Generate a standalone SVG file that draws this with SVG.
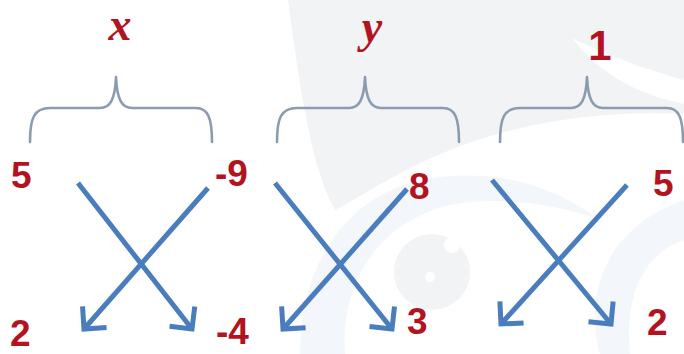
<svg xmlns="http://www.w3.org/2000/svg" width="684" height="354" viewBox="0 0 684 354">
  <defs>
    <style>
      .brace { fill: none; stroke: #8c9cb0; stroke-width: 2.6; stroke-linecap: round; stroke-linejoin: round; }
      .arrow { fill: none; stroke: #4a7dbd; stroke-width: 5; stroke-linecap: butt; marker-end: url(#head); }
      .num { font-family: "Liberation Sans", Arial, sans-serif; font-weight: bold; font-size: 37px; fill: #b3121f; }
      .var { font-family: "Liberation Serif", "Times New Roman", serif; font-style: italic; font-weight: bold; font-size: 46px; fill: #b3121f; }
      .one { font-family: "Liberation Sans", Arial, sans-serif; font-weight: bold; font-size: 42px; fill: #b3121f; }
      .wm { fill: #f2f3f5; }
      .wm2 { fill: #f3f6fa; }
    </style>
    <marker id="head" markerUnits="userSpaceOnUse" markerWidth="40" markerHeight="40" refX="0" refY="0" orient="auto" overflow="visible">
      <path d="M-16,-16 L0,0 L-16,16" fill="none" stroke="#4a7dbd" stroke-width="5" stroke-linejoin="miter"/>
    </marker>
  </defs>

  <rect width="684" height="354" fill="#ffffff"/>

  <!-- faint background logo -->
  <g id="backdrop">
    <path class="wm" d="M288,0 L684,0 L684,80 C640,68 600,52 572,38 C600,75 640,95 684,104 L684,114 C600,110 520,122 450,150 C400,170 362,196 335,210 C312,170 300,90 288,0 Z"/>
    <path class="wm2" d="M300,354 C300,270 340,200 420,180 C500,165 560,190 600,220 C560,205 500,195 450,205 C380,222 340,280 345,354 Z"/>
    <circle class="wm" cx="432" cy="272" r="38"/>
    <circle cx="452" cy="245" r="8" fill="#ffffff"/>
    <circle cx="430" cy="277" r="5" fill="#ffffff"/>
    <path class="wm2" d="M600,354 C585,300 600,230 684,200 L684,240 C640,255 625,300 630,354 Z"/>
  </g>

  <!-- braces -->
  <g id="brace-x">
    <path class="brace" d="M30,142 C30,118 34,108 50,108 L100,108 C110,108 115,100 116,77 C117,100 122,108 132,108 L196,108 C208,108 212,118 212,142"/>
    <text class="var" x="120" y="40" text-anchor="middle">x</text>
  </g>
  <g id="brace-y">
    <path class="brace" d="M277,142 C277,118 281,108 297,108 L349,108 C359,108 364,100 365,77 C366,100 371,108 381,108 L443,108 C455,108 459,118 459,142"/>
    <text class="var" x="372" y="42" text-anchor="middle">y</text>
  </g>
  <g id="brace-1">
    <path class="brace" d="M500,142 C500,118 504,108 520,108 L571,108 C581,108 586,100 587,77 C588,100 593,108 603,108 L667,108 C679,108 683,118 683,142"/>
    <text class="one" x="600" y="60" text-anchor="middle">1</text>
  </g>

  <!-- coefficients -->
  <g id="top-row">
    <text class="num" x="11" y="188">5</text>
    <text class="num" x="215" y="186">-9</text>
    <text class="num" x="409" y="199">8</text>
    <text class="num" x="653" y="196">5</text>
  </g>
  <g id="bottom-row">
    <text class="num" x="10" y="346">2</text>
    <text class="num" x="216" y="344">-4</text>
    <text class="num" x="407" y="334">3</text>
    <text class="num" x="647" y="335">2</text>
  </g>

  <!-- crossing arrows -->
  <g id="connectors">
    <line class="arrow" x1="78" y1="183" x2="192" y2="329"/>
    <line class="arrow" x1="208" y1="188" x2="84" y2="329"/>
    <line class="arrow" x1="275" y1="183" x2="392" y2="329"/>
    <line class="arrow" x1="407" y1="189" x2="283" y2="329"/>
    <line class="arrow" x1="492" y1="180" x2="611" y2="324"/>
    <line class="arrow" x1="627" y1="185" x2="501" y2="324"/>
  </g>
</svg>
